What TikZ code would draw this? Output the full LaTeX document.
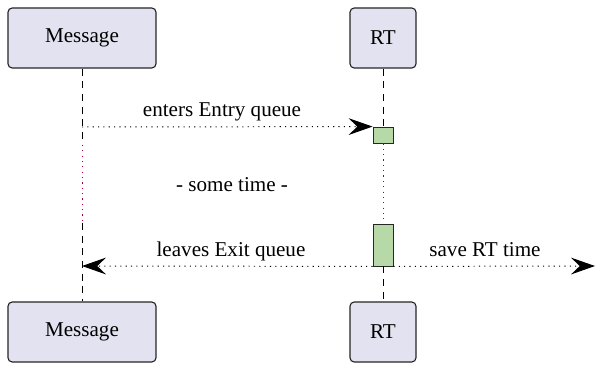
\documentclass[tikz,border=0pt]{standalone}
\usepackage{fontspec}
\setmainfont{Liberation Serif}
\usetikzlibrary{arrows.meta}
\definecolor{partfill}{HTML}{E2E2F0}
\definecolor{actfill}{HTML}{B7D9A8}
\definecolor{lifered}{HTML}{A80036}
\tikzset{
  participant/.style={draw=black!85,fill=partfill,rounded corners=3pt,line width=0.8pt,minimum height=1.5cm,font=\fontsize{15}{18}\selectfont},
  activation/.style={draw=black!85,fill=actfill,line width=0.6pt,minimum width=0.5cm,inner sep=0pt},
  lifeline/.style={dashed,dash pattern=on 5pt off 4pt,line width=0.6pt},
  gapline/.style={lifered,dash pattern=on 0.8pt off 3pt,line width=0.7pt},
  msgarrow/.style={dash pattern=on 0.8pt off 3pt,line width=0.7pt,-{Stealth[length=0.6cm,width=0.42cm,inset=0.22cm]}},
  msglabel/.style={anchor=base,font=\fontsize{15}{18}\selectfont}
}

\begin{document}
\begin{tikzpicture}[x=0.025cm,y=-0.025cm]
    \useasboundingbox (0,0) rectangle (595,366);
    \node[participant,minimum width=3.7cm] (msgTop) at (82,38) {Message};
    \node[participant,minimum width=1.65cm] (rtTop) at (383,38) {RT};
    \node[participant,minimum width=3.7cm] (msgBot) at (82,332) {Message};
    \node[participant,minimum width=1.65cm] (rtBot) at (383,332) {RT};

    % message lifeline, red dots while waiting
    \coordinate (msgIn) at (82,127);
    \coordinate (msgWaitA) at (82,145);
    \coordinate (msgWaitB) at (82,223);
    \coordinate (msgOut) at (82,266);
    \draw[lifeline] (msgTop.south) -- (msgWaitA);
    \draw[gapline] (msgWaitA) -- (msgWaitB);
    \draw[lifeline] (msgWaitB) -- (msgBot.north);

    % RT lifeline with its two activations
    \node[activation,minimum height=0.4cm] (actIn) at (383,135) {};
    \node[activation,minimum height=1.05cm] (actOut) at (383,245) {};
    \draw[lifeline] (rtTop.south) -- (actIn.north);
    \draw[gapline] (actIn.south) -- (actOut.north);
    \draw[lifeline] (actOut.south) -- (rtBot.north);

    \coordinate (saveEnd) at (595,266);
    \draw[msgarrow] (msgIn) -- (actIn.north west);
    \draw[msgarrow] (actOut.south west) -- (msgOut);
    \draw[msgarrow] (actOut.south east) -- (saveEnd);

    \node[msglabel] (enterLbl) at (222,117) {enters Entry queue};
    \node[msglabel] (waitLbl) at (232,192) {- some time -};
    \node[msglabel] (leaveLbl) at (231,257) {leaves Exit queue};
    \node[msglabel] (saveLbl) at (485,257) {save RT time};
\end{tikzpicture}
\end{document}
